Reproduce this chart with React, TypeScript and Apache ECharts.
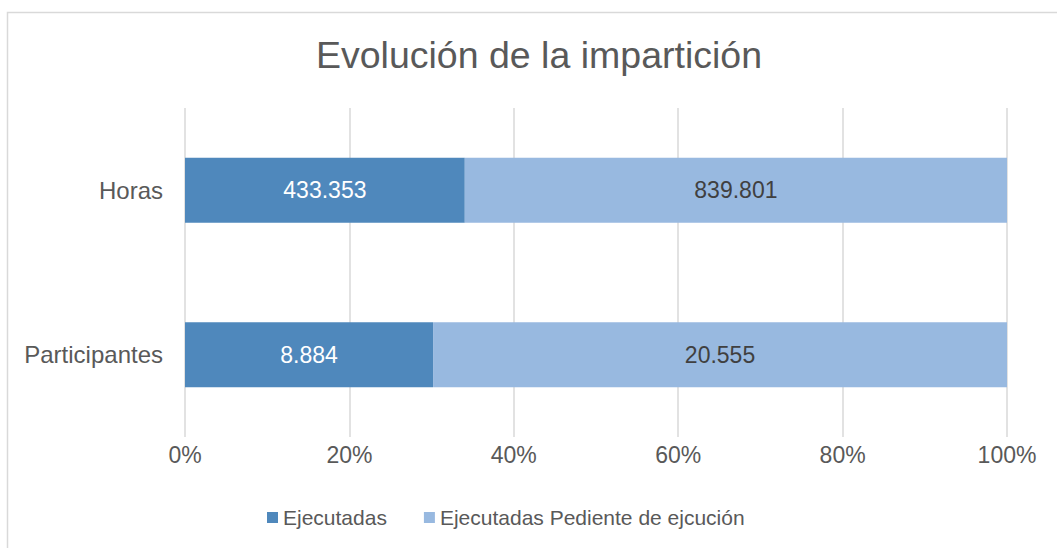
import React, { useEffect, useRef } from "react";
import * as echarts from "echarts";

const categories = ["Participantes", "Horas"];
const ejecutadas = [8884, 433353];
const pendientes = [20555, 839801];
const seriesNames = ["Ejecutadas", "Ejecutadas Pediente de ejcución"];
const titleText = "Evolución de la impartición";
const xTicks = [0, 20, 40, 60, 80, 100];

const fmt = (v: number) => v.toString().replace(/\B(?=(\d{3})+(?!\d))/g, ".");

export default function App() {
  const ref = useRef<HTMLDivElement>(null);
  useEffect(() => {
    if (!ref.current) return;
    const chart = echarts.init(ref.current, null, { renderer: "svg" });
    const totals = categories.map((_, i) => ejecutadas[i] + pendientes[i]);
    const font = "'Liberation Sans', Arial, sans-serif";
    chart.setOption({
      animation: false,
      textStyle: { fontFamily: font },
      title: {
        text: titleText,
        left: 534,
        textAlign: "center",
        top: 31,
        textStyle: { fontSize: 37.5, fontWeight: "normal", color: "#595959", fontFamily: font },
      },
      graphic: [
        {
          type: "rect",
          shape: { x: 7.5, y: 12.5, width: 1200, height: 700 },
          style: { fill: "none", stroke: "#d9d9d9", lineWidth: 1.5 },
          silent: true,
        },
      ],
      legend: {
        left: 262,
        top: 502,
        icon: "rect",
        itemWidth: 11,
        itemHeight: 11,
        itemGap: 37,
        textStyle: { fontSize: 21, color: "#595959", fontFamily: font },
        data: seriesNames,
      },
      grid: { left: 185, right: 50, top: 108, bottom: 111, containLabel: false },
      xAxis: {
        type: "value",
        min: xTicks[0],
        max: xTicks[xTicks.length - 1],
        interval: 20,
        axisLine: { show: false },
        axisTick: { show: false },
        splitLine: { show: true, lineStyle: { color: "#d9d9d9", width: 1.5 } },
        axisLabel: {
          formatter: "{value}%",
          fontSize: 23,
          color: "#595959",
          margin: 6,
          fontFamily: font,
        },
      },
      yAxis: {
        type: "category",
        data: categories,
        axisLine: { show: false },
        axisTick: { show: false },
        axisLabel: { fontSize: 24, color: "#595959", margin: 22, fontFamily: font },
      },
      series: [
        {
          name: seriesNames[0],
          type: "bar",
          stack: "total",
          barWidth: 65,
          itemStyle: { color: "#4F88BC" },
          data: ejecutadas.map((v, i) => (v / totals[i]) * 100),
          label: {
            show: true,
            position: "inside",
            color: "#ffffff",
            fontSize: 23,
            fontFamily: font,
            formatter: (p: any) => fmt(ejecutadas[p.dataIndex]),
          },
        },
        {
          name: seriesNames[1],
          type: "bar",
          stack: "total",
          barWidth: 65,
          itemStyle: { color: "#98B9E0" },
          data: pendientes.map((v, i) => (v / totals[i]) * 100),
          label: {
            show: true,
            position: "inside",
            color: "#404040",
            fontSize: 23,
            fontFamily: font,
            formatter: (p: any) => fmt(pendientes[p.dataIndex]),
          },
        },
      ],
    });
    return () => chart.dispose();
  }, []);
  return (
    <div
      ref={ref}
      style={{ position: "fixed", left: 0, top: 0, width: 1057, height: 548, background: "#fff" }}
    />
  );
}
